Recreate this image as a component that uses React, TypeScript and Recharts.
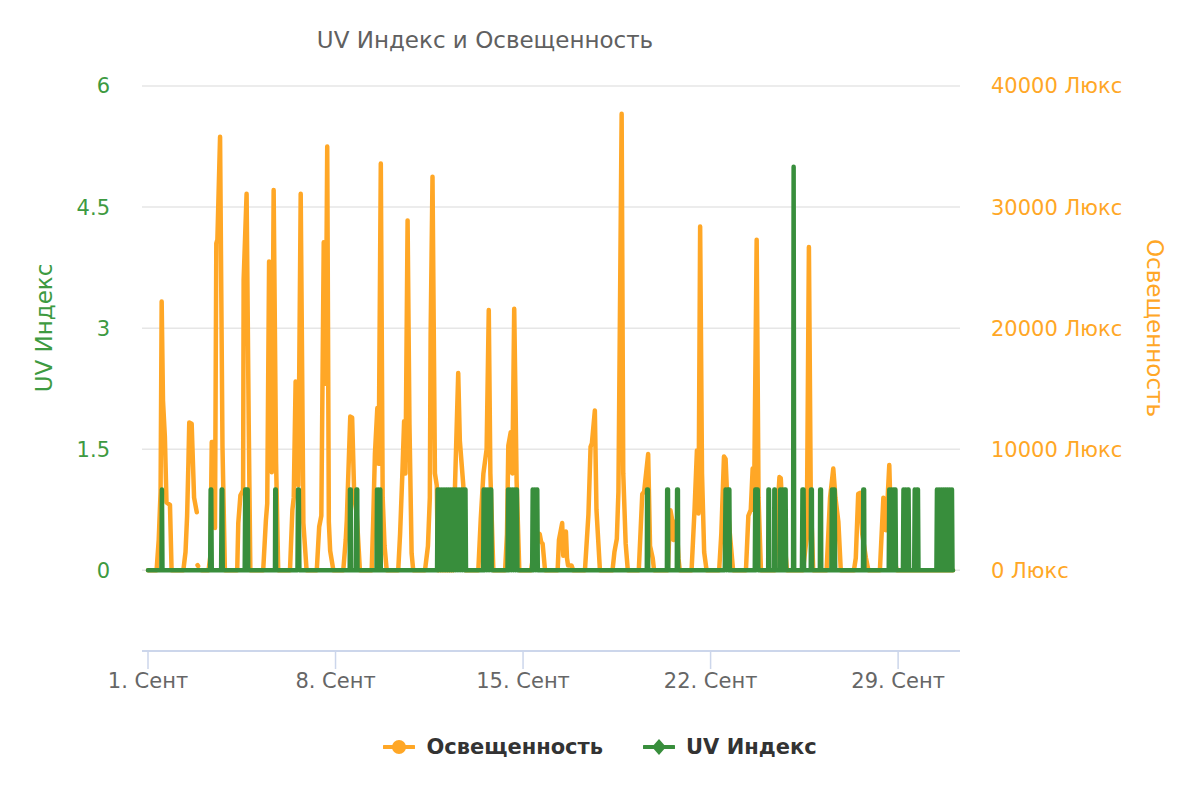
import {
  LineChart,
  Line,
  XAxis,
  YAxis,
  CartesianGrid,
  Legend,
} from 'recharts';

const FONT = "'DejaVu Sans', Verdana, sans-serif";
const LUX_COLOR = '#ffa726';
const UV_COLOR = '#388e3c';
const UV_LABEL_COLOR = '#3d9a41';

// x = day of September (1.0 = 1 Sept 00:00)
const X_DOMAIN: [number, number] = [0.776, 31.31];
const TICK_DAYS = [1, 8, 15, 22, 29];
const MONTH_LABEL = 'Сент';

const UV_TICKS = [0, 1.5, 3, 4.5, 6];
const UV_DOMAIN: [number, number] = [-1, 6];
const LUX_TICKS = [0, 10000, 20000, 30000, 40000];
const LUX_DOMAIN: [number, number] = [-40000 / 6, 40000];

// [day, lux]  (null = gap in the sensor data)
const LUX_POINTS: [number, number | null][] = [
  [1.0, 0], [1.32, 0], [1.4, 2500], [1.47, 6500], [1.51, 22200], [1.56, 14000], [1.63, 11000], [1.69, 5600], [1.82, 5400], [1.88, 0],
  [2.32, 0], [2.4, 1500], [2.46, 4500], [2.51, 9000], [2.54, 12200], [2.63, 12100], [2.72, 6000], [2.82, 4800], [2.83, null], [2.85, 420], [2.87, 350], [2.88, null], [3.0, 0],
  [3.26, 0], [3.33, 1200], [3.38, 10600], [3.44, 10600], [3.5, 3500], [3.55, 27000], [3.59, 27300], [3.69, 35800], [3.78, 10200], [3.87, 0],
  [4.33, 0], [4.37, 3900], [4.45, 6200], [4.55, 6600], [4.57, 24000], [4.68, 31100], [4.76, 12000], [4.82, 0],
  [5.3, 0], [5.4, 4100], [5.45, 5500], [5.52, 25500], [5.62, 8100], [5.69, 31400], [5.78, 9000], [5.86, 0],
  [6.3, 0], [6.39, 5000], [6.44, 6000], [6.51, 15600], [6.61, 7000], [6.7, 31100], [6.8, 3900], [6.92, 0],
  [7.3, 0], [7.39, 3600], [7.47, 4500], [7.56, 27100], [7.63, 15400], [7.69, 35000], [7.75, 4000], [7.8, 1600], [7.92, 0],
  [8.29, 0], [8.38, 2500], [8.42, 4100], [8.55, 12700], [8.62, 12600], [8.7, 6000], [8.79, 4700], [8.91, 0],
  [9.35, 0], [9.41, 4400], [9.47, 9600], [9.56, 13400], [9.61, 8800], [9.69, 33600], [9.76, 6000], [9.83, 2000], [9.91, 0],
  [10.34, 0], [10.41, 3000], [10.49, 7700], [10.56, 12300], [10.61, 8000], [10.69, 28900], [10.76, 12000], [10.84, 1400], [10.9, 0],
  [11.34, 0], [11.45, 2000], [11.52, 6000], [11.55, 19500], [11.62, 32500], [11.71, 8000], [11.78, 7000], [11.82, 0],
  [12.4, 0], [12.46, 7000], [12.58, 16300], [12.64, 10700], [12.77, 7000], [12.85, 0],
  [13.33, 0], [13.42, 4200], [13.52, 8000], [13.58, 9000], [13.64, 10000], [13.72, 21500], [13.78, 8000], [13.89, 0],
  [14.33, 0], [14.4, 3000], [14.45, 10300], [14.54, 11400], [14.6, 8000], [14.67, 21600], [14.76, 7300], [14.86, 0],
  [15.3, 0], [15.4, 1500], [15.5, 2500], [15.62, 3000], [15.68, 2300], [15.73, 2200], [15.82, 0],
  [16.29, 0], [16.34, 2500], [16.46, 3900], [16.5, 1200], [16.6, 3200], [16.64, 1000], [16.68, 400], [16.81, 400], [16.87, 0],
  [17.31, 0], [17.44, 4600], [17.52, 10200], [17.57, 10500], [17.68, 13200], [17.74, 5000], [17.87, 0],
  [18.34, 0], [18.41, 1500], [18.5, 2600], [18.56, 6500], [18.68, 37700], [18.74, 8000], [18.83, 2200], [18.91, 0],
  [19.32, 0], [19.45, 6300], [19.52, 6500], [19.67, 9600], [19.74, 2000], [19.84, 1000], [19.89, 0],
  [20.4, 0], [20.44, 2000], [20.5, 4960], [20.58, 4000], [20.61, 2500], [20.66, 2600], [20.73, 4100], [20.8, 1000], [20.85, 0],
  [21.29, 0], [21.4, 4960], [21.49, 9900], [21.55, 4700], [21.61, 28400], [21.68, 8000], [21.76, 1500], [21.85, 0],
  [22.32, 0], [22.4, 3000], [22.5, 9400], [22.56, 9200], [22.62, 6000], [22.72, 3000], [22.84, 0],
  [23.32, 0], [23.41, 4500], [23.5, 5000], [23.57, 8400], [23.62, 5000], [23.72, 27300], [23.79, 6000], [23.88, 0],
  [24.4, 0], [24.5, 5000], [24.57, 7700], [24.62, 7600], [24.7, 4000], [24.85, 0],
  [25.45, 0], [25.55, 2000], [25.59, 2600], [25.67, 26700], [25.74, 6000], [25.83, 0],
  [26.33, 0], [26.46, 6000], [26.58, 8400], [26.66, 6000], [26.77, 4000], [26.86, 0],
  [27.35, 0], [27.42, 1000], [27.51, 6300], [27.58, 6400], [27.66, 3000], [27.8, 1000], [27.89, 0],
  [28.32, 0], [28.45, 6000], [28.55, 3300], [28.67, 8700], [28.73, 4000], [28.85, 1000], [28.95, 0],
  [31.05, 0],
];

// [day, uv index]
const UV_POINTS: [number, number][] = [
  [1.0, 0], [1.5, 0], [1.52, 1], [1.54, 0],
  [3.32, 0], [3.34, 1], [3.36, 1], [3.38, 0],
  [3.73, 0], [3.75, 1], [3.77, 1], [3.79, 0],
  [4.61, 0], [4.63, 1], [4.66, 0], [4.69, 1], [4.72, 1], [4.74, 0],
  [5.74, 0], [5.75, 1], [5.77, 1], [5.78, 0],
  [6.58, 0], [6.6, 1], [6.63, 1], [6.65, 0],
  [8.53, 0], [8.54, 1], [8.57, 1], [8.58, 0],
  [8.76, 0], [8.78, 1], [8.81, 1], [8.82, 0],
  [9.53, 0], [9.55, 1], [9.58, 0], [9.61, 1], [9.64, 0], [9.67, 1], [9.69, 0],
  [11.79, 0], [11.81, 1], [11.85, 0], [11.89, 1], [11.93, 0], [11.97, 1], [12.01, 0], [12.05, 1], [12.09, 0], [12.13, 1],
  [12.17, 0], [12.21, 1], [12.25, 0], [12.29, 1], [12.33, 0], [12.37, 1], [12.41, 0], [12.45, 1], [12.49, 0], [12.53, 1],
  [12.57, 0], [12.61, 1], [12.65, 0], [12.69, 1], [12.73, 0], [12.77, 1], [12.81, 0], [12.85, 1], [12.87, 0],
  [13.51, 0], [13.53, 1], [13.57, 0], [13.61, 1], [13.65, 0], [13.69, 1], [13.73, 0], [13.77, 1], [13.81, 1], [13.83, 0],
  [14.42, 0], [14.44, 1], [14.48, 0], [14.52, 1], [14.56, 0], [14.6, 1], [14.64, 0], [14.68, 1], [14.72, 0], [14.76, 1], [14.77, 1], [14.79, 0],
  [15.34, 0], [15.36, 1], [15.4, 0], [15.44, 1], [15.48, 0], [15.52, 1], [15.53, 1], [15.55, 0],
  [19.62, 0], [19.63, 1], [19.66, 1], [19.67, 0],
  [20.37, 0], [20.38, 1], [20.41, 1], [20.42, 0],
  [20.74, 0], [20.75, 1], [20.78, 1], [20.79, 0],
  [22.53, 0], [22.56, 1], [22.6, 0], [22.64, 1], [22.67, 0], [22.7, 1], [22.72, 0],
  [23.65, 0], [23.67, 1], [23.7, 0], [23.73, 1], [23.76, 1], [23.78, 0],
  [24.15, 0], [24.16, 1], [24.18, 1], [24.19, 0],
  [24.37, 0], [24.38, 1], [24.4, 1], [24.41, 0],
  [24.58, 0], [24.6, 1], [24.64, 0], [24.68, 1], [24.72, 0], [24.76, 1], [24.8, 1], [24.82, 0],
  [25.08, 0], [25.1, 5], [25.12, 0],
  [25.41, 0], [25.43, 1], [25.47, 1], [25.49, 0],
  [25.74, 0], [25.75, 1], [25.78, 1], [25.79, 0],
  [26.08, 0], [26.09, 1], [26.12, 1], [26.13, 0],
  [26.51, 0], [26.53, 1], [26.57, 0], [26.6, 1], [26.63, 1], [26.65, 0],
  [27.69, 0], [27.7, 1], [27.73, 1], [27.74, 0],
  [28.65, 0], [28.67, 1], [28.71, 0], [28.75, 1], [28.79, 0], [28.83, 1], [28.87, 0], [28.9, 1], [28.92, 0],
  [29.18, 0], [29.2, 1], [29.24, 0], [29.28, 1], [29.32, 0], [29.36, 1], [29.39, 1], [29.41, 0],
  [29.6, 0], [29.62, 1], [29.66, 0], [29.7, 1], [29.74, 1], [29.76, 0],
  [30.43, 0], [30.45, 1], [30.49, 0], [30.53, 1], [30.57, 0], [30.61, 1], [30.65, 0], [30.69, 1], [30.73, 0],
  [30.77, 1], [30.81, 0], [30.85, 1], [30.89, 0], [30.93, 1], [30.97, 0], [31.01, 1], [31.03, 0], [31.05, 0],
];

const luxData = LUX_POINTS.map(([t, lux]) => ({ t, lux }));
const uvData = UV_POINTS.map(([t, uv]) => ({ t, uv }));

function LegendContent() {
  const item = { display: 'flex', alignItems: 'center' } as const;
  return (
    <div
      style={{
        display: 'flex',
        justifyContent: 'center',
        alignItems: 'center',
        gap: 40,
        fontFamily: FONT,
        fontSize: 21,
        fontWeight: 'bold',
        color: '#333333',
        height: 34,
      }}
    >
      <span style={item}>
        <svg width={32} height={18}>
          <line x1={1} y1={9} x2={31} y2={9} stroke={LUX_COLOR} strokeWidth={4} strokeLinecap="round" />
          <circle cx={16} cy={9} r={7} fill={LUX_COLOR} />
        </svg>
        <span style={{ marginLeft: 11 }}>Освещенность</span>
      </span>
      <span style={item}>
        <svg width={32} height={18}>
          <line x1={1} y1={9} x2={31} y2={9} stroke={UV_COLOR} strokeWidth={4} strokeLinecap="round" />
          <path d="M16 1 L23 9 L16 17 L9 9 Z" fill={UV_COLOR} />
        </svg>
        <span style={{ marginLeft: 11 }}>UV Индекс</span>
      </span>
    </div>
  );
}

const renderUvTitle = () => (
  <text
    x={36}
    y={320}
    transform="rotate(-90 36 320)"
    textAnchor="middle"
    dominantBaseline="central"
    fill={UV_LABEL_COLOR}
    fontSize={23}
    fontFamily={FONT}
  >
    UV Индекс
  </text>
);

const renderLuxTitle = () => (
  <text
    x={1147}
    y={320}
    transform="rotate(90 1147 320)"
    textAnchor="middle"
    dominantBaseline="central"
    fill={LUX_COLOR}
    fontSize={23}
    fontFamily={FONT}
  >
    Освещенность
  </text>
);

export default function App() {
  return (
    <div style={{ position: 'relative', width: 1184, height: 784, fontFamily: FONT }}>
      <div
        style={{
          position: 'absolute',
          top: 21,
          left: 177,
          width: 600,
          textAlign: 'center',
          fontSize: 23,
          lineHeight: '23px',
          color: '#606060',
          zIndex: 1,
        }}
      >
        UV Индекс и Освещенность
      </div>
      <LineChart width={1184} height={784} margin={{ top: 78, right: 0, bottom: 81, left: 0 }}>
        <CartesianGrid yAxisId="uv" vertical={false} stroke="#e6e6e6" strokeWidth={1.5} />
        <XAxis
          dataKey="t"
          type="number"
          domain={X_DOMAIN}
          allowDataOverflow
          ticks={TICK_DAYS}
          interval={0}
          tickFormatter={(v: number) => `${v}. ${MONTH_LABEL}`}
          height={60}
          tickSize={18}
          tickMargin={4}
          axisLine={{ stroke: '#ccd6eb', strokeWidth: 2 }}
          tickLine={{ stroke: '#ccd6eb', strokeWidth: 1.5 }}
          tick={{ fill: '#666666', fontSize: 21, fontFamily: FONT }}
        />
        <YAxis
          yAxisId="uv"
          orientation="left"
          width={134}
          domain={UV_DOMAIN}
          ticks={UV_TICKS}
          allowDataOverflow
          interval={0}
          axisLine={false}
          tickLine={false}
          tickSize={0}
          tickMargin={32}
          tick={{ fill: UV_LABEL_COLOR, fontSize: 21, fontFamily: FONT }}
          label={renderUvTitle}
        />
        <YAxis
          yAxisId="lux"
          orientation="right"
          width={232}
          domain={LUX_DOMAIN}
          ticks={LUX_TICKS}
          allowDataOverflow
          interval={0}
          axisLine={false}
          tickLine={false}
          tickSize={0}
          tickMargin={31}
          tickFormatter={(v: number) => `${v} Люкс`}
          tick={{ fill: LUX_COLOR, fontSize: 21, fontFamily: FONT, textAnchor: 'start' }}
          label={renderLuxTitle}
        />
        <Legend
          layout="horizontal"
          verticalAlign="middle"
          align="center"
          content={<LegendContent />}
          wrapperStyle={{ top: 722, left: 0, width: 1184, height: 34 }}
        />
        <Line
          yAxisId="lux"
          data={luxData}
          dataKey="lux"
          name="Освещенность"
          type="linear"
          stroke={LUX_COLOR}
          strokeWidth={4.5}
          strokeLinejoin="round"
          strokeLinecap="round"
          dot={false}
          activeDot={false}
          connectNulls={false}
          isAnimationActive={false}
        />
        <Line
          yAxisId="uv"
          data={uvData}
          dataKey="uv"
          name="UV Индекс"
          type="linear"
          stroke={UV_COLOR}
          strokeWidth={4.5}
          strokeLinejoin="round"
          strokeLinecap="round"
          dot={false}
          activeDot={false}
          isAnimationActive={false}
        />
      </LineChart>
    </div>
  );
}
